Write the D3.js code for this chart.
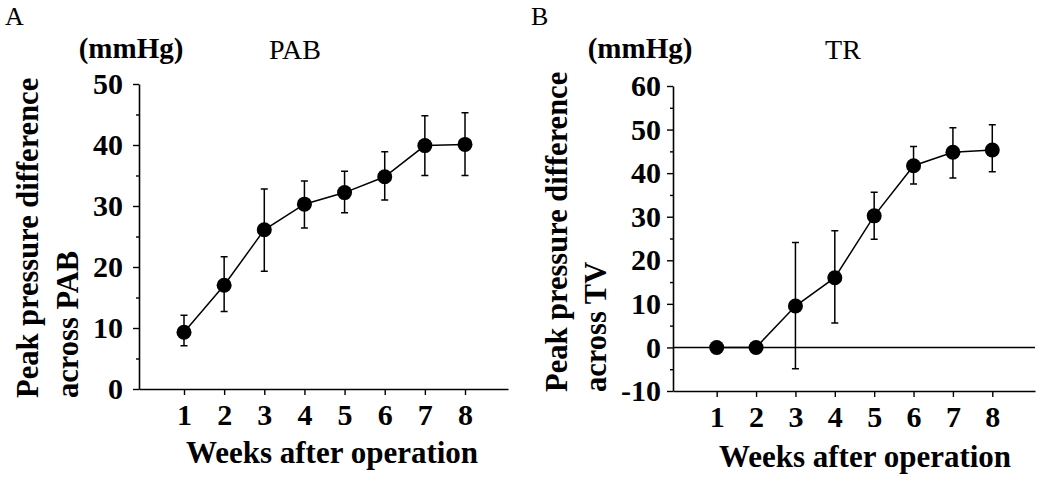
<!DOCTYPE html>
<html><head><meta charset="utf-8">
<script src="https://cdn.jsdelivr.net/npm/d3@7"></script>
<style>body{margin:0;background:#fff}svg{display:block}text{font-family:"Liberation Serif","Times New Roman",serif;fill:#000}</style>
</head><body><svg id="c" width="1050" height="482"></svg>
<script>
const weeks = [1,2,3,4,5,6,7,8];
const pabMean  = [9.3, 17.0, 26.1, 30.3, 32.2, 34.8, 39.9, 40.1];
const pabUpper = [12.1, 21.7, 32.8, 34.1, 35.7, 38.9, 44.8, 45.3];
const pabLower = [7.1, 12.7, 19.3, 26.4, 28.9, 31.0, 35.0, 35.0];
const trMean  = [0, 0, 9.5, 16.0, 30.2, 41.7, 44.8, 45.3];
const trUpper = [null, null, 24.1, 26.8, 35.6, 46.1, 50.4, 51.1];
const trLower = [null, null, -4.9, 5.6, 24.8, 37.5, 38.9, 40.3];
const pabTicks = [0,10,20,30,40,50];
const pabMinor = [5,15,25,35,45];
const trTicks = [-10,0,10,20,30,40,50,60];
const trMinor = [-5,5,15,25,35,45,55];

const svg = d3.select("#c");

function panel(o){
  const g = svg.append("g");
  const x = d3.scaleLinear().domain(o.xd).range(o.xr);
  const y = d3.scaleLinear().domain(o.yd).range(o.yr);
  g.append("g").attr("transform",`translate(${o.xr[0]},0)`)
    .call(d3.axisLeft(y).tickValues(o.minor).tickSize(3).tickFormat("").tickSizeOuter(0))
    .call(s=>{s.select(".domain").remove();s.selectAll("line").attr("stroke-width",1.4);});
  g.append("g").attr("transform",`translate(${o.xr[0]},0)`)
    .call(d3.axisLeft(y).tickValues(o.ticks).tickSize(6).tickSizeOuter(0).tickPadding(o.pad).tickFormat(d=>String(d)))
    .call(s=>{s.select(".domain").attr("stroke-width",1.6);s.selectAll("line").attr("stroke-width",1.4);
      s.selectAll("text").attr("font-size",30).attr("font-weight","bold").attr("font-family","Liberation Serif, serif").attr("fill","#000");});
  g.append("g").attr("transform",`translate(0,${o.yr[0]})`)
    .call(d3.axisBottom(x).tickValues(weeks).tickSize(6).tickSizeOuter(0).tickPadding(9).tickFormat(d=>String(d)))
    .call(s=>{s.select(".domain").attr("stroke-width",1.6);s.selectAll("line").attr("stroke-width",1.4);
      s.selectAll("text").attr("font-size",30).attr("font-weight","bold").attr("font-family","Liberation Serif, serif").attr("fill","#000");});
  if(o.zero){
    g.append("line").attr("x1",o.xr[0]).attr("x2",o.xr[1]).attr("y1",y(0)).attr("y2",y(0))
      .attr("stroke","#000").attr("stroke-width",1.5);
  }
  const eb = weeks.map((w,i)=>({w,m:o.mean[i],u:o.upper[i],l:o.lower[i]})).filter(d=>d.u!==null);
  const cw=3.5;
  g.selectAll(".eb").data(eb).join("path").attr("fill","none").attr("stroke","#000").attr("stroke-width",1.5)
    .attr("d",d=>`M${x(d.w)},${y(d.u)}V${y(d.l)}M${x(d.w)-cw},${y(d.u)}H${x(d.w)+cw}M${x(d.w)-cw},${y(d.l)}H${x(d.w)+cw}`);
  g.append("path").datum(weeks.map((w,i)=>[w,o.mean[i]]))
    .attr("fill","none").attr("stroke","#000").attr("stroke-width",1.5)
    .attr("d",d3.line().x(d=>x(d[0])).y(d=>y(d[1])));
  g.selectAll(".dot").data(weeks.map((w,i)=>[w,o.mean[i]])).join("circle")
    .attr("cx",d=>x(d[0])).attr("cy",d=>y(d[1])).attr("r",7.5).attr("fill","#000");
  g.append("text").attr("x",o.letterX).attr("y",25).attr("font-size",26).text(o.letter);
  g.append("text").attr("x",o.unitX).attr("y",58).attr("text-anchor","middle").attr("font-size",29).attr("font-weight","bold").text("(mmHg)");
  g.append("text").attr("x",o.titleX).attr("y",59).attr("text-anchor","middle").attr("font-size",28).text(o.title);
  g.append("text").attr("transform",`translate(${o.yt1},${o.ytY}) rotate(-90)`).attr("font-size",30.5).attr("font-weight","bold").text("Peak pressure difference");
  g.append("text").attr("transform",`translate(${o.yt2},${o.ytY}) rotate(-90)`).attr("font-size",30.5).attr("font-weight","bold").text(o.ytitle2);
  g.append("text").attr("x",o.xtX).attr("y",o.xtY).attr("text-anchor","middle").attr("font-size",31).attr("font-weight","bold").text("Weeks after operation");
}

panel({xd:[-0.121,9.071], xr:[139,508], yd:[0,50], yr:[389,84], ticks:pabTicks, minor:pabMinor, pad:10,
  mean:pabMean, upper:pabUpper, lower:pabLower, zero:false,
  letter:"A", letterX:5, unitX:131, title:"PAB", titleX:295, yt1:38, yt2:78, ytY:398, ytitle2:"across PAB",
  xtX:332, xtY:463});
panel({xd:[-0.11,9.085], xr:[673,1035], yd:[-10,60], yr:[391,86], ticks:trTicks, minor:trMinor, pad:6,
  mean:trMean, upper:trUpper, lower:trLower, zero:true,
  letter:"B", letterX:531, unitX:640, title:"TR", titleX:843, yt1:567, yt2:606, ytY:392, ytitle2:"across TV",
  xtX:865, xtY:467});
</script></body></html>
